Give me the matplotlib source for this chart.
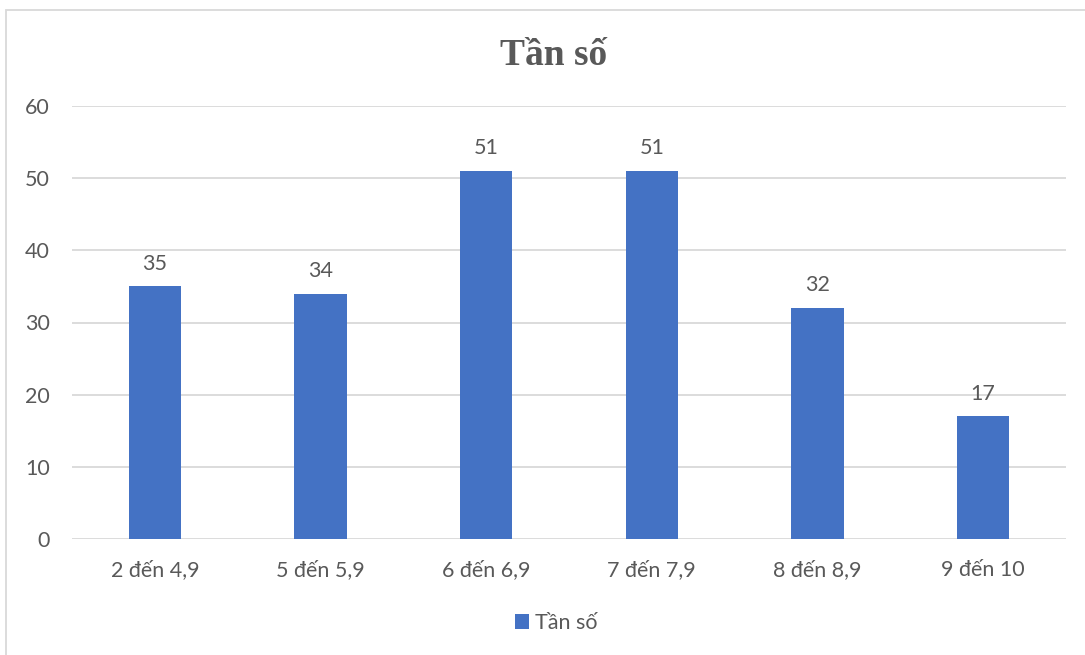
import matplotlib.pyplot as plt
from matplotlib.patches import Rectangle

# data
categories = ["2 đến 4,9", "5 đến 5,9", "6 đến 6,9", "7 đến 7,9", "8 đến 8,9", "9 đến 10"]
tan_so = [35, 34, 51, 51, 32, 17]
y_ticks = [0, 10, 20, 30, 40, 50, 60]

bar_color = "#4472C4"
text_color = "#595959"
grid_color = "#D9D9D9"
fs = 15.5

plt.rcParams["font.family"] = ["Lato", "DejaVu Sans"]

fig = plt.figure(figsize=(10.85, 6.55), dpi=100)
ax = fig.add_axes([72 / 1085, 1 - 539 / 655, (1066 - 72) / 1085, (539 - 106) / 655])

x = range(len(categories))
bars = ax.bar(x, tan_so, width=0.315, color=bar_color, label="Tần số", zorder=3)

for b, v in zip(bars, tan_so):
    ax.annotate(str(v), (b.get_x() + b.get_width() / 2, v), xytext=(0, 12),
                textcoords="offset points", ha="center", va="baseline",
                fontsize=fs, color=text_color)

ax.set_xlim(-0.5, len(categories) - 0.5)
ax.set_ylim(0, 60)
ax.set_yticks(y_ticks)
ax.set_xticks(list(x))
ax.set_xticklabels(categories)
ax.tick_params(axis="both", length=0, labelsize=fs, labelcolor=text_color)
ax.tick_params(axis="y", pad=16)
ax.tick_params(axis="x", pad=15)
ax.yaxis.grid(True, color=grid_color, linewidth=1.3, zorder=0)
for s in ax.spines.values():
    s.set_visible(False)

fig.text(554 / 1085, 1 - 65 / 655, "Tần số", ha="center", va="baseline",
         fontsize=27, fontweight="bold", color=text_color,
         family=["Liberation Serif", "DejaVu Serif"])

fig.legend(handles=[bars], labels=["Tần số"], loc="center",
           bbox_to_anchor=(556 / 1085, 1 - 623 / 655), frameon=False,
           fontsize=fs, labelcolor=text_color, handlelength=0.65,
           handleheight=0.65, handletextpad=0.3)

# chart border (only the left and top edges show in the crop)
fig.patches.append(Rectangle((6 / 1085, -0.1), 1.2, 1 - 10 / 655 + 0.1,
                             transform=fig.transFigure, fill=False,
                             edgecolor=grid_color, linewidth=1.3))

fig.savefig("out.png", dpi=100)
